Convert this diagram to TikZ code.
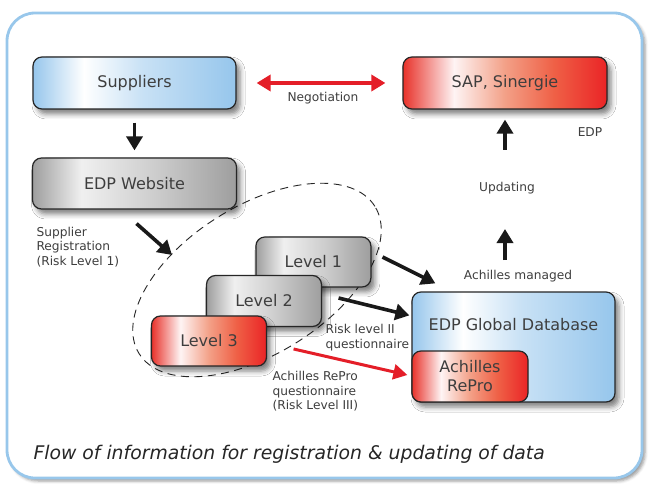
\documentclass[tikz,border=0pt]{standalone}
\usepackage{fontspec}
\setmainfont{DejaVu Sans}
\usetikzlibrary{arrows.meta,shadows.blur}
\definecolor{frameblue}{RGB}{152,199,235}
\definecolor{txtgray}{RGB}{62,62,62}
\definecolor{arrowred}{RGB}{228,30,40}
\definecolor{shblue}{RGB}{150,198,236}
\definecolor{shbluemid}{RGB}{200,225,245}
\definecolor{shred}{RGB}{234,36,38}
\definecolor{shredleft}{RGB}{232,50,42}
\definecolor{shredpale}{RGB}{243,160,135}
\definecolor{shredmid}{RGB}{239,96,70}
\definecolor{shgray}{RGB}{158,158,158}
\definecolor{shgraymid}{RGB}{205,205,205}
\pgfdeclarehorizontalshading{blueshade}{100bp}{color(0bp)=(shblue); color(25bp)=(shblue);
  color(37.5bp)=(white); color(52bp)=(shbluemid); color(75bp)=(shblue); color(100bp)=(shblue)}
\pgfdeclarehorizontalshading{redshade}{100bp}{color(0bp)=(shredleft); color(25bp)=(shredleft);
  color(37.5bp)=(white!95!shred); color(50bp)=(shredpale); color(62bp)=(shredmid);
  color(75bp)=(shred); color(100bp)=(shred)}
\pgfdeclarehorizontalshading{grayshade}{100bp}{color(0bp)=(shgray); color(25bp)=(shgray);
  color(37bp)=(white!94!black); color(55bp)=(shgraymid); color(75bp)=(shgray); color(100bp)=(shgray)}

\begin{document}
\begin{tikzpicture}[x=1pt, y=1pt,
  box/.style={draw=black!85, line width=1.2pt, rounded corners=9pt,
    text=txtgray, font=\fontsize{16}{19}\selectfont, align=center},
  boxshadow/.style={blur shadow={shadow xshift=4pt, shadow yshift=-5pt,
    shadow blur radius=5pt, shadow opacity=50}},
  note/.style={text=txtgray, font=\fontsize{12.2}{14.5}\selectfont, align=left},
  blackarrow/.style={line width=3.6pt, draw=black!90,
    -{Triangle[length=14pt, width=16pt]}},
  redboth/.style={line width=3.4pt, draw=arrowred,
    {Triangle[length=14pt, width=16pt]}-{Triangle[length=14pt, width=16pt]}},
  redarrow/.style={line width=3pt, draw=arrowred,
    -{Triangle[length=14pt, width=15pt]}}]
\useasboundingbox (0,0) rectangle (651,483);
% the frame
\draw[frameblue, line width=2.8pt, rounded corners=28pt, fill=white,
  blur shadow={shadow xshift=3pt, shadow yshift=-3pt, shadow blur radius=3pt,
  shadow opacity=40}] (7,5) rectangle (642,470);
% risk levels
\draw[black!85, line width=0.9pt, dash pattern=on 8pt off 5.5pt,
  rotate around={32:(257,203)}] (257,203) ellipse [x radius=139, y radius=74];
% boxes
\node[box, boxshadow, shading=blueshade, minimum width=203pt, minimum height=52pt]
  (sup) at (134.5,400) {Suppliers};
\node[box, boxshadow, shading=redshade, minimum width=204pt, minimum height=52pt]
  (sap) at (505,400) {SAP, Sinergie};
\node[box, boxshadow, shading=grayshade, minimum width=204pt, minimum height=51pt]
  (web) at (134.5,299.5) {EDP Website};
\node[box, boxshadow, shading=grayshade, minimum width=115pt, minimum height=50pt]
  (lv1) at (313.4,221) {Level 1};
\node[box, boxshadow, shading=grayshade, minimum width=115pt, minimum height=51pt]
  (lv2) at (264,182) {Level 2};
\node[box, boxshadow, shading=redshade, minimum width=115pt, minimum height=50pt]
  (lv3) at (209,142) {Level 3};
\node[box, boxshadow, shading=blueshade, minimum width=203pt, minimum height=110pt]
  (db) at (513.5,136) {};
\node[text=txtgray, font=\fontsize{16}{19}\selectfont]
  (dbtxt) at ([yshift=-33pt]db.north) {EDP Global Database};
\node[box, shading=redshade, minimum width=116pt, minimum height=51pt]
  (arp) at (470,106.5) {Achilles\\RePro};
% arrows
\draw[blackarrow, shorten <=13pt, shorten >=7pt] (sup) -- (web);
\draw[redboth, shorten <=20pt, shorten >=17pt] (sup) -- (sap);
\coordinate (upd1) at (505,333);
\draw[blackarrow, shorten >=10pt] (upd1) -- (sap);
\coordinate (upd2a) at (505,223);
\coordinate (upd2b) at (505,254);
\draw[blackarrow] (upd2a) -- (upd2b);
\coordinate (regtip) at (172,228);
\draw[blackarrow] ([shift={(2pt,-14pt)}]web.south) -- (regtip);
\draw[blackarrow] ([shift={(11pt,5pt)}]lv1.east) -- ([shift={(24pt,8pt)}]db.north west);
\draw[blackarrow] ([shift={(16.5pt,3pt)}]lv2.east) -- ([shift={(-2pt,-24pt)}]db.north west);
\draw[redarrow] ([shift={(26.5pt,-8pt)}]lv3.east) -- ([shift={(-4pt,1.5pt)}]arp.west);
% labels
\node[note] (neg) at (323,385) {Negotiation};
\node[note] (edp) at (590,351) {EDP};
\node[note] (upd) at (507,295) {Updating};
\node[note] (achm) at (518,207) {Achilles managed};
\node[note, anchor=west] (supreg) at (33,236) {Supplier\\Registration\\(Risk Level 1)};
\node[note, anchor=west] (risk2) at (322,145.5) {Risk level II\\questionnaire};
\node[note, anchor=west] (risk3) at (269,91.5) {Achilles RePro\\questionnaire\\(Risk Level III)};
% caption
\node[anchor=west, text=black!85, font=\fontsize{18.8}{22}\selectfont\itshape]
  (cap) at (30,29) {Flow of information for registration \& updating of data};
\end{tikzpicture}
\end{document}
